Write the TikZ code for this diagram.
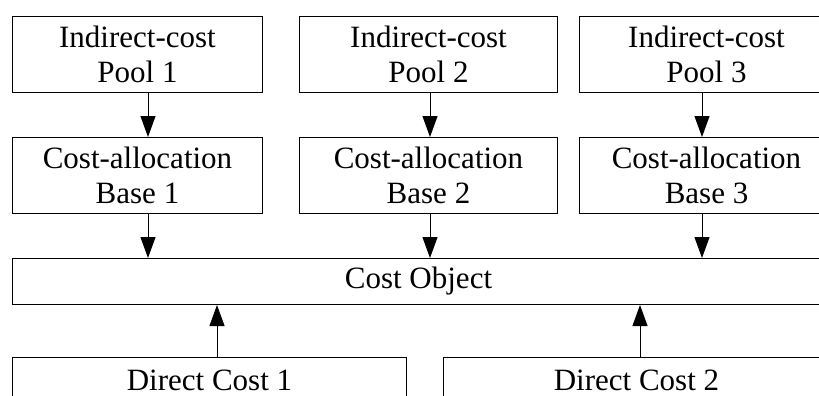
\documentclass[tikz,border=0pt]{standalone}
\usepackage{fontspec}
\setmainfont{Liberation Serif}
\usetikzlibrary{arrows.meta}
\begin{document}
\begin{tikzpicture}[x=1pt,y=-1pt,
  box/.style={draw, line width=1pt, inner sep=0pt, anchor=north west,
    align=center, font=\fontsize{31}{35}\selectfont},
  arr/.style={line width=1pt, -{Triangle[length=21pt,width=15pt]}}]
\useasboundingbox (0,0) rectangle (819,396);
\clip (0,0) rectangle (819,396);
% indirect-cost pools
\node[box, minimum width=250pt, minimum height=76pt] (p1) at (12,16) {Indirect-cost\\Pool 1};
\node[box, minimum width=258pt, minimum height=76pt] (p2) at (299,16) {Indirect-cost\\Pool 2};
\node[box, minimum width=254pt, minimum height=76pt] (p3) at (579,16) {Indirect-cost\\Pool 3};
% cost-allocation bases
\node[box, minimum width=250pt, minimum height=76pt] (b1) at (12,137) {Cost-allocation\\Base 1};
\node[box, minimum width=258pt, minimum height=76pt] (b2) at (299,137) {Cost-allocation\\Base 2};
\node[box, minimum width=254pt, minimum height=76pt] (b3) at (579,137) {Cost-allocation\\Base 3};
% cost object
\node[box, minimum width=812pt, minimum height=46pt] (obj) at (12,258) {Cost Object};
% direct costs (boxes run past the lower edge)
\node[box, minimum width=394pt, minimum height=46pt] (d1) at (12,357) {Direct Cost 1};
\node[box, minimum width=386pt, minimum height=46pt] (d2) at (443,357) {Direct Cost 2};
% connector columns
\coordinate (a1) at (148,0);
\coordinate (a2) at (430,0);
\coordinate (a3) at (702,0);
\coordinate (u1) at (217,0);
\coordinate (u2) at (640,0);
\foreach \i in {1,2,3} {
  \draw[arr] (p\i.south -| a\i) -- (b\i.north -| a\i);
  \draw[arr] (b\i.south -| a\i) -- (obj.north -| a\i);
}
\draw[arr] (d1.north -| u1) -- (obj.south -| u1);
\draw[arr] (d2.north -| u2) -- (obj.south -| u2);
\end{tikzpicture}
\end{document}
